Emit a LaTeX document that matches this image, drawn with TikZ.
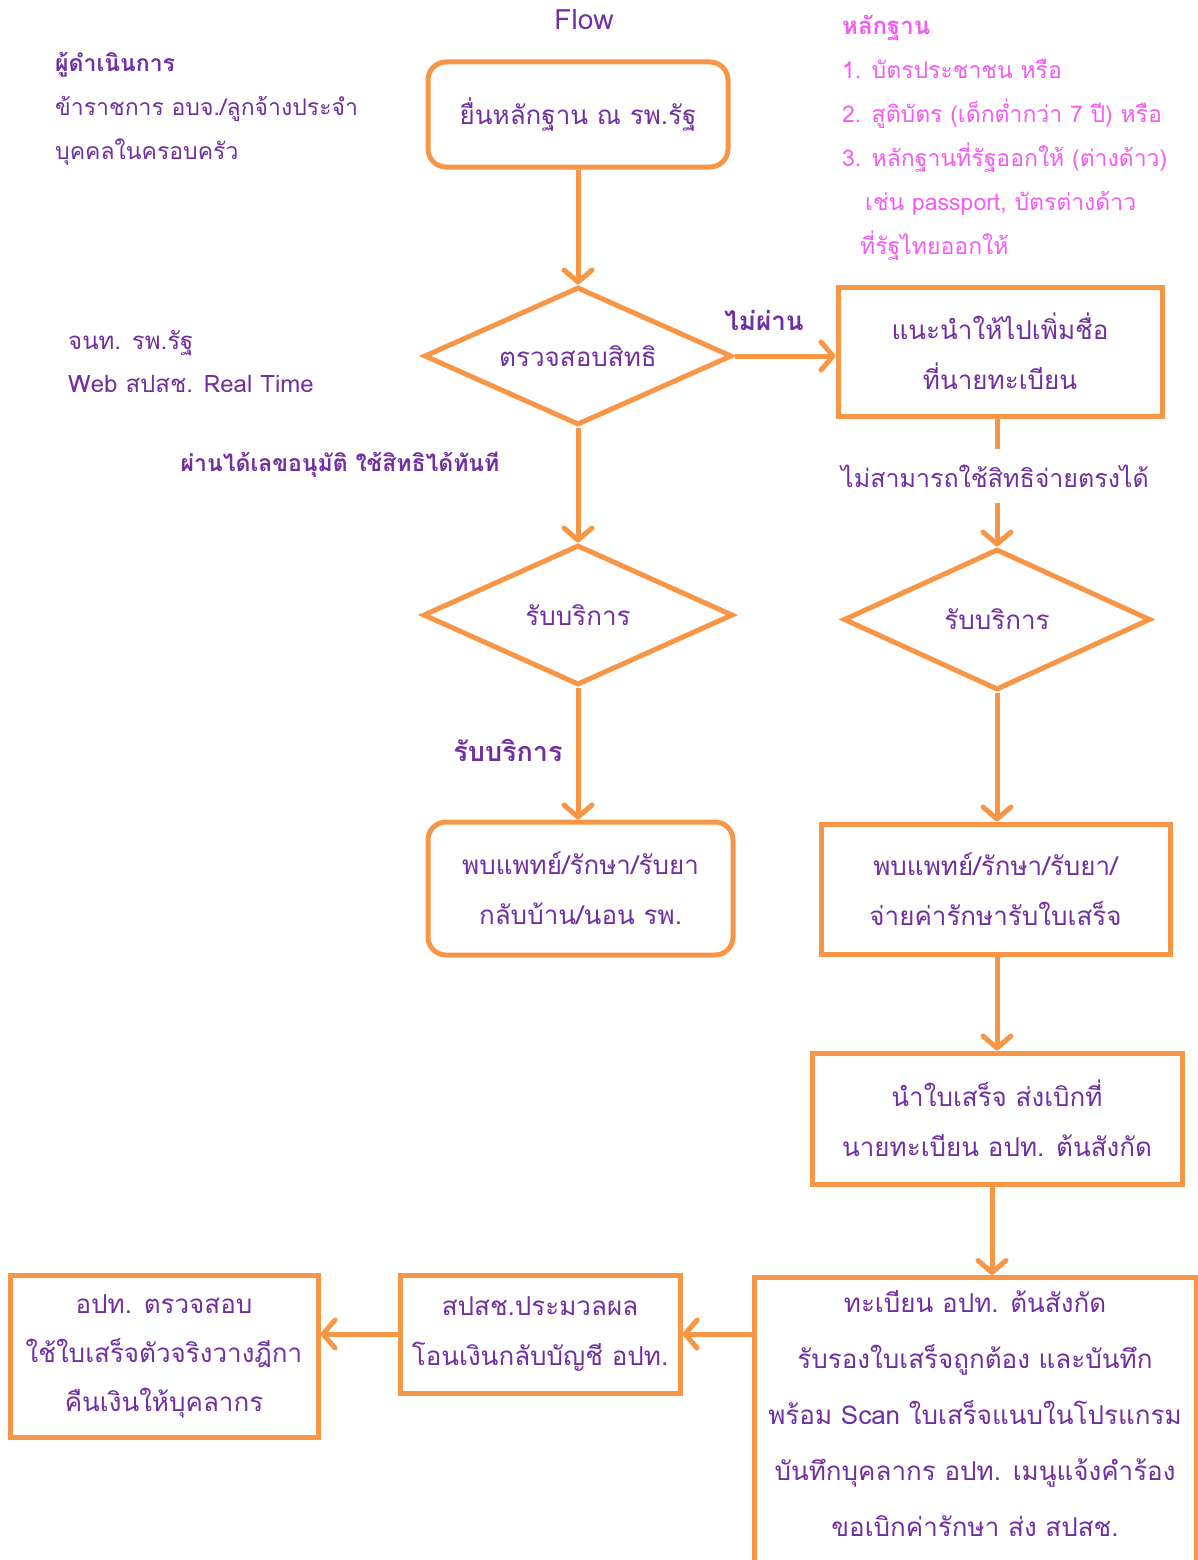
\documentclass[tikz,border=0pt]{standalone}
\usepackage{fontspec}
\setmainfont[Script=Thai]{Loma}
\usepackage{tikz}
\usetikzlibrary{positioning,arrows.meta,shapes.geometric}
\definecolor{flowline}{HTML}{F79646}
\definecolor{flowtext}{HTML}{7030A0}
\definecolor{hinttext}{HTML}{F25CF0}
\tikzset{
flowbox/.style = {rectangle, draw=flowline, line width=5pt, text=flowtext, align=center,
  font=\fontsize{26}{50}\selectfont, inner sep=0pt},
roundbox/.style = {flowbox, rounded corners=18pt},
decision/.style = {diamond, aspect=2.2, draw=flowline, line width=5pt, text=flowtext,
  font=\fontsize{26}{50}\selectfont, inner sep=0pt},
note/.style = {text=flowtext, align=left, anchor=west, inner sep=0pt,
  font=\fontsize{23}{44}\selectfont},
boldnote/.style = {note, font=\fontsize{26}{44}\selectfont\bfseries},
hint/.style = {note, text=hinttext},
plainline/.style = {draw=flowline, line width=5pt},
flowarrow/.style = {plainline, -{Straight Barb[length=12pt,width=28pt,round]}}
}
\begin{document}
\begin{tikzpicture}[x=1pt, y=-1pt]
\useasboundingbox (0,0) rectangle (1198,1560);
\clip (0,0) rectangle (1198,1560);
% side notes
\node [note, anchor=center, font=\fontsize{28}{44}\selectfont] (flow) at (584,20) {Flow};
\node [boldnote, font=\fontsize{23}{44}\selectfont\bfseries] (actor) at (55,65) {ผู้ดำเนินการ};
\node [note] (actorlist) at (55,130.5) {ข้าราชการ อบจ./ลูกจ้างประจำ\\บุคคลในครอบครัว};
\node [note, font=\fontsize{24}{43}\selectfont] (staff) at (68,361.5) {จนท. รพ.รัฐ\\Web สปสช. Real Time};
\node [hint, font=\fontsize{24}{44}\selectfont\bfseries] (proof) at (842,28) {หลักฐาน};
\node [hint] (prooflist) at (842,159.5) {1. บัตรประชาชน หรือ\\2. สูติบัตร (เด็กต่ำกว่า 7 ปี) หรือ\\3. หลักฐานที่รัฐออกให้ (ต่างด้าว)\\\hspace*{23pt}เช่น passport, บัตรต่างด้าว\\\hspace*{18pt}ที่รัฐไทยออกให้};
% main flow
\node [roundbox, minimum width=300pt, minimum height=105pt] (submit) at (578,114.5) {ยื่นหลักฐาน ณ รพ.รัฐ};
\node [decision, minimum width=308pt, minimum height=138pt] (check) at (578,356) {ตรวจสอบสิทธิ};
\node [flowbox, minimum width=324pt, minimum height=129pt] (advise) at (1000,351.5) {แนะนำให้ไปเพิ่มชื่อ\\ที่นายทะเบียน};
\node [decision, minimum width=310pt, minimum height=140pt] (svcok) at (578,615) {รับบริการ};
\node [decision, minimum width=307pt, minimum height=141pt] (svcpay) at (997,619.5) {รับบริการ};
\node [roundbox, minimum width=305pt, minimum height=133pt] (treatok) at (580.5,888.5) {พบแพทย์/รักษา/รับยา\\กลับบ้าน/นอน รพ.};
\node [flowbox, minimum width=349pt, minimum height=130pt] (treatpay) at (995.5,889) {พบแพทย์/รักษา/รับยา/\\จ่ายค่ารักษารับใบเสร็จ};
\node [flowbox, minimum width=370pt, minimum height=131pt] (claim) at (997,1118.5) {นำใบเสร็จ ส่งเบิกที่\\นายทะเบียน อปท. ต้นสังกัด};
\node [flowbox, anchor=north, minimum width=442pt, minimum height=330pt] (register) at (975,1275) {};
\node [note, anchor=center, align=center, font=\fontsize{26}{56}\selectfont] (registertxt) at (975,1414) {ทะเบียน อปท. ต้นสังกัด\\รับรองใบเสร็จถูกต้อง และบันทึก\\พร้อม Scan ใบเสร็จแนบในโปรแกรม\\บันทึกบุคลากร อปท. เมนูแจ้งคำร้อง\\ขอเบิกค่ารักษา ส่ง สปสช.};
\node [flowbox, minimum width=280pt, minimum height=118pt] (process) at (540,1334) {สปสช.ประมวลผล\\โอนเงินกลับบัญชี อปท.};
\node [flowbox, minimum width=308pt, minimum height=162pt, font=\fontsize{26}{49}\selectfont] (refund) at (164,1356) {อปท. ตรวจสอบ\\ใช้ใบเสร็จตัวจริงวางฎีกา\\คืนเงินให้บุคลากร};
% labels on connectors
\node [boldnote, anchor=center] (fail) at (764,320) {ไม่ผ่าน};
\node [boldnote, anchor=center, font=\fontsize{23}{44}\selectfont\bfseries] (pass) at (340,465) {ผ่านได้เลขอนุมัติ ใช้สิทธิได้ทันที};
\node [boldnote, anchor=center, font=\fontsize{27}{44}\selectfont\bfseries] (served) at (508,750) {รับบริการ};
\node [note, anchor=center, inner ysep=16pt, font=\fontsize{25}{44}\selectfont] (nopay) at (995,476) {ไม่สามารถใช้สิทธิจ่ายตรงได้};
% connectors
\draw [flowarrow] (submit) -- (check);
\draw [flowarrow] (check.east) -- (advise.west |- check.east);
\draw [plainline] (advise.south -| svcpay) -- (nopay.north -| svcpay);
\draw [flowarrow] (nopay.south -| svcpay) -- (svcpay);
\draw [flowarrow] (check) -- (svcok);
\draw [flowarrow] (svcok) -- (svcok.south |- treatok.north);
\draw [flowarrow] (svcpay) -- (svcpay.south |- treatpay.north);
\draw [flowarrow] (treatpay.south -| svcpay) -- (claim.north -| svcpay);
\draw [flowarrow] (claim.south -| 992,0) -- (register.north -| 992,0);
\draw [flowarrow] (register.west |- process.east) -- (process.east);
\draw [flowarrow] (process.west) -- (refund.east |- process.west);
\end{tikzpicture}
\end{document}
